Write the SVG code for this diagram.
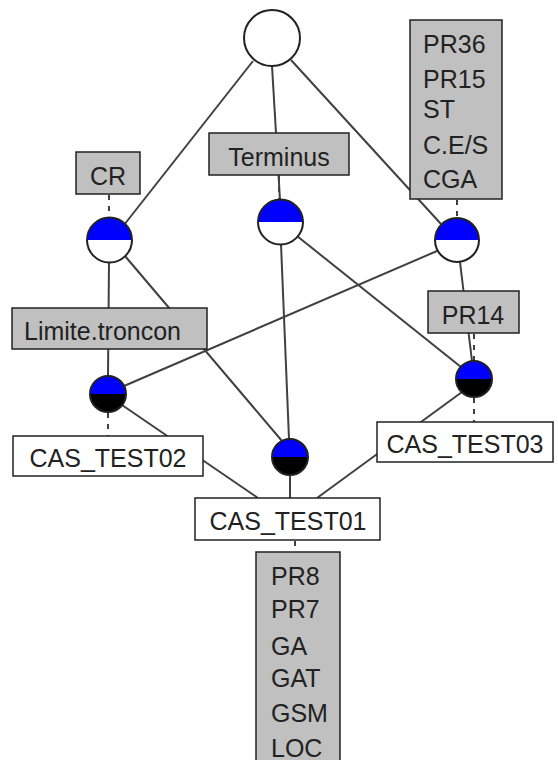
<svg xmlns="http://www.w3.org/2000/svg" width="558" height="760" viewBox="0 0 558 760">
<style>
.e{stroke:#404040;stroke-width:2;fill:none}
.d{stroke:#404040;stroke-width:2;fill:none;stroke-dasharray:5,6}
.lb{fill:#c0c0c0;stroke:#222;stroke-width:1.5}
.wb{fill:#fff;stroke:#222;stroke-width:1.5}
.t{font-family:"Liberation Sans",Arial,sans-serif;font-size:25px;fill:#222}
.c{stroke:#222;stroke-width:2}
.bl{fill:#0000ff}
.bk{fill:#000}
.wh{fill:#fff}
</style>
<rect width="558" height="760" fill="#fff"/>
<g id="connectors">
<line class="e" x1="253" y1="61" x2="124" y2="225"/>
<line class="e" x1="272" y1="66" x2="280" y2="200"/>
<line class="e" x1="291" y1="60" x2="441" y2="224"/>
<line class="e" x1="109" y1="262" x2="108" y2="376"/>
<line class="e" x1="125" y1="256" x2="282" y2="441"/>
<line class="e" x1="281" y1="244" x2="289" y2="439"/>
<line class="e" x1="297" y1="236" x2="461" y2="367"/>
<line class="e" x1="437" y1="251" x2="124" y2="386"/>
<line class="e" x1="460" y1="262" x2="472" y2="361"/>
<line class="e" x1="122" y1="405" x2="258" y2="498"/>
<line class="e" x1="290" y1="475" x2="290" y2="498"/>
<line class="e" x1="462" y1="392" x2="317" y2="498"/>
<line class="d" x1="109" y1="195" x2="109" y2="217"/>
<line class="d" x1="279" y1="176" x2="279" y2="199"/>
<line class="d" x1="457" y1="200" x2="457" y2="218"/>
<line class="d" x1="474" y1="334" x2="474" y2="360"/>
<line class="d" x1="108" y1="413" x2="108" y2="436"/>
<line class="d" x1="474" y1="398" x2="474" y2="422"/>
<line class="d" x1="295" y1="541" x2="295" y2="552"/>
</g>
<g id="top">
<circle class="c" cx="272" cy="38" r="28" fill="#fff"/>
</g>
<g id="CR">
<rect class="lb" x="76" y="152" width="64" height="42"/>
<text class="t" x="108" y="185" text-anchor="middle">CR</text>
</g>
<g id="n_CR">
<path class="bl" d="M87,240 A22.5,22.5 0 0 1 132,240 Z"/>
<path class="wh" d="M87,240 A22.5,22.5 0 0 0 132,240 Z"/>
<circle class="c" cx="109.5" cy="240" r="22.5" fill="none"/>
</g>
<g id="Terminus">
<rect class="lb" x="209" y="133" width="140" height="42"/>
<text class="t" x="279" y="166" text-anchor="middle">Terminus</text>
</g>
<g id="n_Terminus">
<path class="bl" d="M258,222 A22.5,22.5 0 0 1 303,222 Z"/>
<path class="wh" d="M258,222 A22.5,22.5 0 0 0 303,222 Z"/>
<circle class="c" cx="280.5" cy="222" r="22.5" fill="none"/>
</g>
<g id="PR36">
<rect class="lb" x="410" y="20" width="92" height="179"/>
<text class="t" x="423" y="53">PR36</text>
<text class="t" x="423" y="88">PR15</text>
<text class="t" x="423" y="118">ST</text>
<text class="t" x="423" y="154">C.E/S</text>
<text class="t" x="423" y="188">CGA</text>
</g>
<g id="n_right">
<path class="bl" d="M435,240 A22,22 0 0 1 479,240 Z"/>
<path class="wh" d="M435,240 A22,22 0 0 0 479,240 Z"/>
<circle class="c" cx="457" cy="240" r="22" fill="none"/>
</g>
<g id="Limite">
<rect class="lb" x="12" y="308" width="195" height="41"/>
<text class="t" x="24" y="340">Limite.troncon</text>
</g>
<g id="PR14">
<rect class="lb" x="428" y="291" width="91" height="42"/>
<text class="t" x="473" y="324" text-anchor="middle">PR14</text>
</g>
<g id="n_limite">
<path class="bl" d="M90,394 A18,18 0 0 1 126,394 Z"/>
<path class="bk" d="M90,394 A18,18 0 0 0 126,394 Z"/>
<circle class="c" cx="108" cy="394" r="18" fill="none"/>
</g>
<g id="n_mid">
<path class="bl" d="M272,457 A18,18 0 0 1 308,457 Z"/>
<path class="bk" d="M272,457 A18,18 0 0 0 308,457 Z"/>
<circle class="c" cx="290" cy="457" r="18" fill="none"/>
</g>
<g id="n_lr">
<path class="bl" d="M456,379 A18,18 0 0 1 492,379 Z"/>
<path class="bk" d="M456,379 A18,18 0 0 0 492,379 Z"/>
<circle class="c" cx="474" cy="379" r="18" fill="none"/>
</g>
<g id="CAS_TEST02">
<rect class="wb" x="13" y="436" width="190" height="40"/>
<text class="t" x="108" y="467" text-anchor="middle">CAS_TEST02</text>
</g>
<g id="CAS_TEST03">
<rect class="wb" x="377" y="422" width="176" height="40"/>
<text class="t" x="465" y="453" text-anchor="middle">CAS_TEST03</text>
</g>
<g id="CAS_TEST01">
<rect class="wb" x="195" y="498" width="185" height="42"/>
<text class="t" x="288" y="530" text-anchor="middle">CAS_TEST01</text>
</g>
<g id="PR8">
<rect class="lb" x="256" y="552" width="84" height="212"/>
<text class="t" x="271" y="585">PR8</text>
<text class="t" x="271" y="618">PR7</text>
<text class="t" x="271" y="655">GA</text>
<text class="t" x="271" y="687">GAT</text>
<text class="t" x="271" y="722">GSM</text>
<text class="t" x="271" y="757">LOC</text>
</g>
</svg>
